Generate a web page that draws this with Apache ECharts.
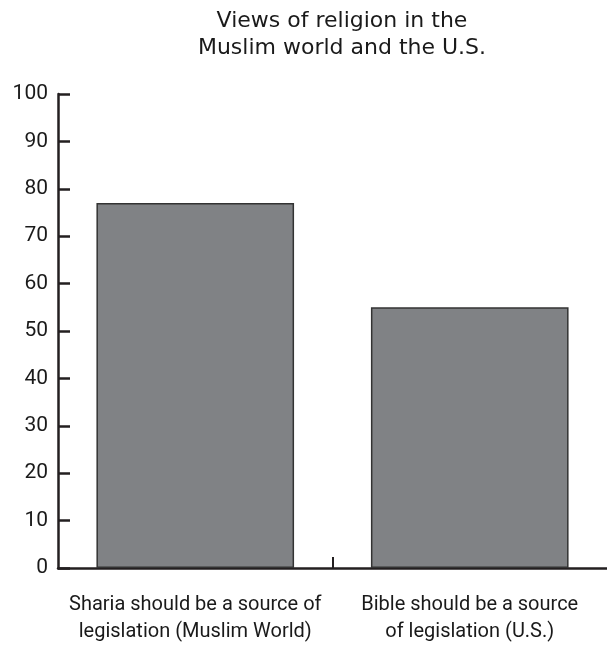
<!DOCTYPE html>
<html>
<head>
<meta charset="utf-8">
<script src="https://cdn.jsdelivr.net/npm/echarts@6/dist/echarts.min.js"></script>
<style>
  html, body { margin: 0; padding: 0; background: #fff; }
  #chart { width: 607px; height: 649px; }
</style>
</head>
<body>
<div id="chart"></div>
<script>
// data
const categories = [
    'Sharia should be a source of\nlegislation (Muslim World)',
    'Bible should be a source\nof legislation (U.S.)'
]
const values = [77, 55]
const titleText = 'Views of religion in the\nMuslim world and the U.S.'

const ink = '#231f20'
var chart = echarts.init(document.getElementById('chart'))
option = {
    animation: false,
    title: {
        text: titleText,
        left: 337,
        top: 3,
        textAlign: 'center',
        textStyle: {
            fontFamily: 'DejaVu Sans',
            fontWeight: 'normal',
            fontSize: 22,
            lineHeight: 27,
            color: '#1a1a1a'
        }
    },
    grid: {
        left: 58,
        right: -5,
        top: 94,
        bottom: 81
    },
    xAxis: [
        {
            type: 'category',
            data: categories,
            axisLine: { lineStyle: { color: ink, width: 2.5 } },
            axisTick: { show: false },
            axisLabel: {
                interval: 0,
                margin: 23,
                fontFamily: 'Roboto',
                fontSize: 20,
                lineHeight: 27,
                color: '#1a1a1a'
            }
        },
        {
            // helper axis: only the small tick between the two bars
            type: 'value',
            position: 'bottom',
            min: 0,
            max: 2,
            axisLine: { show: false },
            axisLabel: { show: false },
            splitLine: { show: false },
            axisTick: {
                show: true,
                inside: true,
                customValues: [1],
                length: 11,
                lineStyle: { color: ink, width: 2 }
            }
        }
    ],
    yAxis: {
        type: 'value',
        min: 0,
        max: 100,
        interval: 10,
        splitLine: { show: false },
        axisLine: { show: true, lineStyle: { color: ink, width: 2.5 } },
        axisTick: {
            show: true,
            inside: true,
            length: 12,
            lineStyle: { color: ink, width: 2.5 }
        },
        axisLabel: {
            margin: 10,
            fontFamily: 'Roboto',
            fontSize: 21,
            color: '#1a1a1a'
        }
    },
    series: [
        {
            type: 'bar',
            data: values,
            barWidth: '72%',
            itemStyle: {
                color: '#808285',
                borderColor: '#333',
                borderWidth: 1.5
            }
        }
    ]
}
chart.setOption(option)
</script>
</body>
</html>
